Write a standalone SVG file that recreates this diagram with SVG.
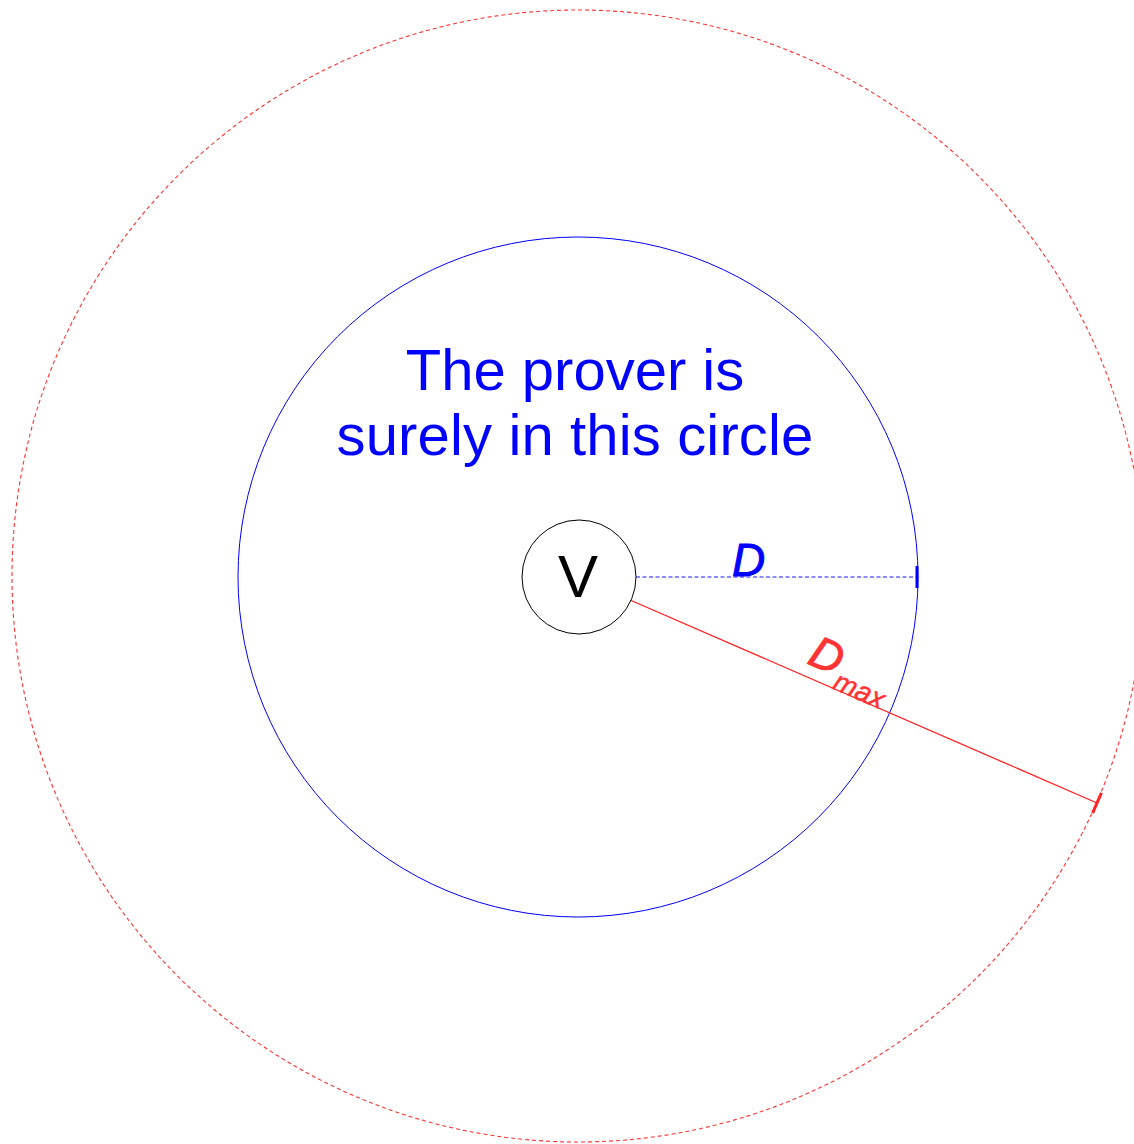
<svg xmlns="http://www.w3.org/2000/svg" width="1134" height="1144" viewBox="0 0 1134 1144">
<style>
text{font-family:"Liberation Sans",Arial,sans-serif}
.blue{fill:#0000ff}
.red{fill:#ff3333}
.lbl{font-style:italic;stroke-width:0.9}
</style>
<rect width="1134" height="1144" fill="#ffffff"/>
<g id="outer-circle">
<circle cx="578" cy="576" r="566" fill="none" stroke="#ff3333" stroke-width="1.1" stroke-dasharray="4,3"/>
</g>
<g id="inner-circle">
<circle cx="578" cy="577" r="340" fill="none" stroke="#0000ff" stroke-width="1"/>
<text class="blue" x="575" y="390" font-size="58" text-anchor="middle">The prover is</text>
<text class="blue" x="575" y="455" font-size="58" text-anchor="middle" letter-spacing="0.15">surely in this circle</text>
</g>
<g id="connectors">
<line x1="636" y1="577" x2="918" y2="577" stroke="#6666ff" stroke-width="1.3" stroke-dasharray="4,2.5"/>
<line x1="917" y1="566" x2="917" y2="588" stroke="#0000ff" stroke-width="3"/>
<line x1="630" y1="600" x2="1097" y2="803" stroke="#ff2222" stroke-width="1.3"/>
<line x1="1101.4" y1="792.9" x2="1092.6" y2="813.1" stroke="#ff2222" stroke-width="3"/>
<text class="blue lbl" x="732" y="576" font-size="46" stroke="#0000ff">D</text>
<text class="red lbl" x="806" y="663" font-size="45" stroke="#ff3333" transform="rotate(23.5 806 663)">D<tspan font-size="28" dx="1" dy="13" stroke-width="0.5">max</tspan></text>
</g>
<g id="node-V">
<circle cx="579" cy="577" r="57" fill="#ffffff" stroke="#000000" stroke-width="1"/>
<text x="578" y="597" font-size="60" text-anchor="middle" fill="#000000">V</text>
</g>
</svg>
